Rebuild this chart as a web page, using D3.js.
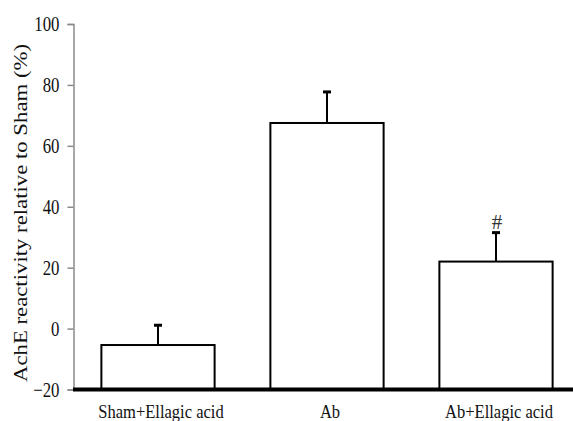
<!DOCTYPE html>
<html>
<head>
<meta charset="utf-8">
<script src="https://cdn.jsdelivr.net/npm/d3@7"></script>
<style>
  body { margin: 0; background: #fff; }
  svg { display: block; }
</style>
</head>
<body>
<svg id="chart"></svg>
<script>
// Values
const groups = ['Sham+Ellagic acid', 'Ab', 'Ab+Ellagic acid'];
const means = [-5.4, 67.5, 22.0];
const errors = [6.5, 10.2, 9.5];
const marks = ['', '', '#'];
const yTicks = [-20, 0, 20, 40, 60, 80, 100];

const width = 573;
const height = 421;
const FONT = '"Liberation Serif"';

const svg = d3.select('#chart')
    .attr('width', width)
    .attr('height', height);

// Scales
const x = d3.scaleBand()
    .domain(groups)
    .range([73.5, 580.5])
    .paddingInner(0.33)
    .paddingOuter(0.165);

const y = d3.scaleLinear()
    .domain([-20, 100])
    .range([389.5, 24]);

// Y axis (thin grey)
const yAxis = svg.append('g')
    .attr('transform', 'translate(73.5,0)')
    .call(d3.axisLeft(y).tickValues(yTicks).tickSize(6).tickPadding(6).tickFormat(d3.format('d')));

yAxis.select('.domain').attr('stroke', '#8a8a8a').attr('stroke-width', 1.5);
yAxis.selectAll('.tick line').attr('stroke', '#8a8a8a').attr('stroke-width', 1.5);
yAxis.selectAll('.tick text')
    .style('font-family', FONT)
    .style('font-size', '21px')
    .attr('fill', '#111')
    .attr('dy', '0.33em')
    .attr('x', 0)
    .attr('transform', 'translate(-14,0) scale(0.8,1)');

// Bars
svg.selectAll('.bar')
  .data(groups)
  .enter().append('rect')
    .attr('class', 'bar')
    .attr('x', d => x(d))
    .attr('width', x.bandwidth())
    .attr('y', (d, i) => y(means[i]))
    .attr('height', (d, i) => y(-20) - y(means[i]))
    .attr('fill', '#fff')
    .attr('stroke', '#000')
    .attr('stroke-width', 2);

// Error bars (upper only)
const eb = svg.selectAll('.err')
  .data(groups)
  .enter().append('g')
    .attr('class', 'err');

eb.append('line')
    .attr('x1', d => x(d) + x.bandwidth() / 2)
    .attr('x2', d => x(d) + x.bandwidth() / 2)
    .attr('y1', (d, i) => y(means[i]))
    .attr('y2', (d, i) => y(means[i] + errors[i]))
    .attr('stroke', '#000')
    .attr('stroke-width', 2);

eb.append('line')
    .attr('x1', d => x(d) + x.bandwidth() / 2 - 4)
    .attr('x2', d => x(d) + x.bandwidth() / 2 + 4)
    .attr('y1', (d, i) => y(means[i] + errors[i]))
    .attr('y2', (d, i) => y(means[i] + errors[i]))
    .attr('stroke', '#000')
    .attr('stroke-width', 3);

// Significance marks
svg.selectAll('.mark')
  .data(groups)
  .enter().append('text')
    .attr('class', 'mark')
    .attr('x', d => x(d) + x.bandwidth() / 2 + 1)
    .attr('y', (d, i) => y(means[i] + errors[i]) - 4)
    .attr('text-anchor', 'middle')
    .style('font-family', FONT)
    .style('font-size', '21px')
    .attr('fill', '#333')
    .text((d, i) => marks[i]);

// Thick baseline
svg.append('line')
    .attr('x1', 73)
    .attr('x2', width)
    .attr('y1', y(-20))
    .attr('y2', y(-20))
    .attr('stroke', '#000')
    .attr('stroke-width', 4);

// X labels
svg.append('g')
    .selectAll('.xlab')
    .data(groups)
    .enter().append('text')
    .attr('class', 'xlab')
    .attr('transform', d => `translate(${x(d) + x.bandwidth() / 2 + 3},418) scale(0.87,1)`)
    .attr('text-anchor', 'middle')
    .style('font-family', FONT)
    .style('font-size', '19px')
    .attr('fill', '#111')
    .text(d => d);

// Y title
svg.append('text')
    .attr('transform', 'translate(27,213) rotate(-90)')
    .attr('text-anchor', 'middle')
    .style('font-family', FONT)
    .style('font-size', '18px')
    .attr('fill', '#111')
    .attr('textLength', 338)
    .attr('lengthAdjust', 'spacingAndGlyphs')
    .text('AchE reactivity relative to Sham (%)');
</script>
</body>
</html>
